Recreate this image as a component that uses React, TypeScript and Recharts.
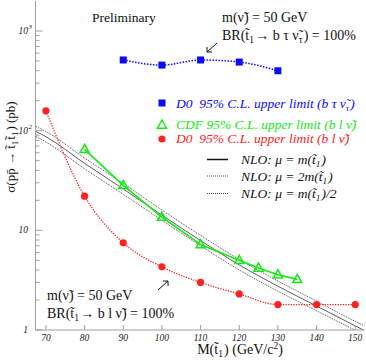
import React from 'react';
import { LineChart, Line, XAxis, YAxis } from 'recharts';

// NLO stop pair cross sections (pb) vs stop mass (GeV/c^2)
const nloMass = [67, 70, 80, 90, 100, 110, 120, 130, 140, 150, 153];
const nloHalfScale = [112, 98, 53, 29.5, 16, 8.9, 5.1, 3.1, 1.95, 1.22, 1.07];
const nloCentral = [100, 87, 47, 26, 14.2, 7.9, 4.5, 2.75, 1.74, 1.1, 0.96];
const nloDoubleScale = [89, 77, 41.5, 23, 12.6, 7.0, 4.0, 2.45, 1.56, 0.99, 0.86];

// D0 limit, b tau nu_tau channel
const d0TauMass = [90, 100, 110, 120, 130];
const d0TauLimit = [512, 455, 512, 488, 399];

// CDF limit, b l nu channel
const cdfMass = [80, 90, 100, 110, 120, 125, 130, 135];
const cdfLimit = [65, 28.3, 13.6, 7.2, 5.0, 4.18, 3.59, 3.22];

// D0 limit, b l nu channel
const d0LepMass = [70, 80, 90, 100, 110, 120, 130, 140, 150];
const d0LepLimit = [158, 22, 7.5, 4.3, 3.0, 2.3, 1.8, 1.8, 1.8];

const massTicks = [70, 80, 90, 100, 110, 120, 130, 140, 150];
const sigmaTicks = [
  1, 2, 3, 4, 5, 6, 7, 8, 9,
  10, 20, 30, 40, 50, 60, 70, 80, 90,
  100, 200, 300, 400, 500, 600, 700, 800, 900,
  1000,
];

const BLUE = '#0a0aff';
const GREEN = '#14ea14';
const RED = '#ff2020';
const FRAME = '#a0a0a0';
const NLO_GRAY = '#4a4a4a';
const SERIF = "'Liberation Serif', 'Times New Roman', serif";

const toPoints = (xs: number[], ys: number[]) => xs.map((m, i) => ({ m, v: ys[i] }));

const SquareDot = (p: any) =>
  p.cx == null ? null : (
    <rect key={`sq${p.index}`} x={p.cx - 3.5} y={p.cy - 3.5} width={7} height={7} fill={BLUE} />
  );

const CircleDot = (p: any) =>
  p.cx == null ? null : <circle key={`ci${p.index}`} cx={p.cx} cy={p.cy} r={3.6} fill={RED} />;

const triPath = (cx: number, cy: number) =>
  `M${cx},${cy - 5} L${cx - 4.5},${cy + 3.2} L${cx + 4.5},${cy + 3.2} Z`;

const TriangleDot = (p: any) =>
  p.cx == null ? null : (
    <path key={`tr${p.index}`} d={triPath(p.cx, p.cy)} fill="none" stroke={GREEN} strokeWidth={1.5} />
  );

const SigmaTick = (props: any) => {
  const { x, y, payload } = props;
  const lg = Math.log10(payload.value);
  const exp = Math.round(lg);
  const major = Math.abs(lg - exp) < 1e-6;
  return (
    <g>
      <line x1={x} x2={x + (major ? 7 : 4)} y1={y} y2={y} stroke={FRAME} />
      {major && (
        <text x={x - 7.5} y={y + 3} textAnchor="end" fontSize={9.5} fontStyle="italic" fontFamily={SERIF} fill="#222">
          {exp === 0 ? '1' : '10'}
        </text>
      )}
      {major && exp >= 2 && (
        <text x={x - 7} y={y - 2} fontSize={7} fontStyle="italic" fontFamily={SERIF} fill="#222">
          {exp}
        </text>
      )}
    </g>
  );
};

const MassTick = (props: any) => {
  const { x, y, payload } = props;
  return (
    <g>
      <line x1={x} x2={x} y1={y} y2={y - 5} stroke={FRAME} />
      <text x={x} y={y + 11} textAnchor="middle" fontSize={9.5} fontStyle="italic" fontFamily={SERIF} fill="#222">
        {payload.value}
      </text>
    </g>
  );
};

const Sub = ({ children }: { children: React.ReactNode }) => (
  <>
    <tspan dy={3} fontSize="0.68em">{children}</tspan>
    <tspan dy={-3}>{'\u200a'}</tspan>
  </>
);

const Overlay = () => (
  <svg
    width={366}
    height={360}
    style={{ position: 'absolute', left: 0, top: 0, pointerEvents: 'none' }}
    fontFamily={SERIF}
  >
    <text x={92} y={21.5} fontSize={13.5} fill="#111">Preliminary</text>

    <text x={222} y={22} fontSize={14} fill="#111">m(ν̃) = 50 GeV</text>
    <text x={222} y={39.5} fontSize={14} fill="#111">
      BR(t̃<Sub>1</Sub>→ b τ ν̃<Sub>τ</Sub>) = 100%
    </text>
    <line x1={217} y1={43} x2={207} y2={52} stroke="#111" />
    <polyline points="207,47 207,52 212,52" fill="none" stroke="#111" />

    <text x={47} y={300} fontSize={14} fill="#111">m(ν̃) = 50 GeV</text>
    <text x={47} y={318} fontSize={14} fill="#111">
      BR(t̃<Sub>1</Sub>→ b l ν̃) = 100%
    </text>
    <line x1={158} y1={290} x2={168} y2={281} stroke="#111" />
    <polyline points="163,281 168,281 168,286" fill="none" stroke="#111" />

    {/* legend */}
    <rect x={158.5} y={99.5} width={7} height={7} fill={BLUE} />
    <text x={176} y={108} fontSize={13.5} fontStyle="italic" fill={BLUE} style={{ whiteSpace: 'pre' }}>
      D0  95% C.L. upper limit (b τ ν̃<Sub>τ</Sub>)
    </text>
    <path d={triPath(162, 125)} fill="none" stroke={GREEN} strokeWidth={1.5} />
    <text x={176} y={128.5} fontSize={13.5} fontStyle="italic" fill={GREEN} style={{ whiteSpace: 'pre' }}>
      CDF 95% C.L. upper limit (b l ν̃)
    </text>
    <circle cx={162} cy={139} r={3.6} fill={RED} />
    <text x={176} y={142.5} fontSize={13.5} fontStyle="italic" fill={RED} style={{ whiteSpace: 'pre' }}>
      D0  95% C.L. upper limit (b l ν̃)
    </text>

    <line x1={207} x2={228} y1={159.5} y2={159.5} stroke="#111" strokeWidth={1.5} />
    <text x={241} y={164} fontSize={13.5} fontStyle="italic" fill="#111">
      NLO: μ = m(t̃<Sub>1</Sub>)
    </text>
    <line x1={207} x2={228} y1={176} y2={176} stroke={NLO_GRAY} strokeDasharray="1 1" />
    <text x={241} y={180.5} fontSize={13.5} fontStyle="italic" fill="#111">
      NLO: μ = 2m(t̃<Sub>1</Sub>)
    </text>
    <line x1={207} x2={228} y1={193.5} y2={193.5} stroke={NLO_GRAY} strokeDasharray="1 1" />
    <text x={241} y={198} fontSize={13.5} fontStyle="italic" fill="#111">
      NLO: μ = m(t̃<Sub>1</Sub>)/2
    </text>

    {/* axis titles */}
    <text x={-147} y={15} transform="rotate(-90)" textAnchor="middle" fontSize={13} fill="#111">
      σ(pp̄ → t̃<Sub>1</Sub>t̃<Sub>1</Sub>) (pb)
    </text>
    <text x={240} y={353.5} textAnchor="middle" fontSize={14} fill="#111">
      M(t̃<Sub>1</Sub>) (GeV/c<tspan dy={-5} fontSize="0.68em">2</tspan><tspan dy={5}>)</tspan>
    </text>
  </svg>
);

export default function App() {
  return (
    <div style={{ position: 'absolute', left: 0, top: 0, width: 366, height: 360, background: '#fff' }}>
      <LineChart width={366} height={360} margin={{ top: 1, right: 1.5, left: 0.5, bottom: 0 }}>
        <XAxis
          dataKey="m"
          type="number"
          domain={[67.3, 152.4]}
          allowDataOverflow
          ticks={massTicks}
          interval={0}
          height={30}
          tickSize={0}
          tickMargin={0}
          tickLine={false}
          axisLine={{ stroke: FRAME }}
          tick={<MassTick />}
        />
        <XAxis
          xAxisId="top"
          orientation="top"
          type="number"
          domain={[67.3, 152.4]}
          height={0}
          tick={false}
          tickLine={false}
          axisLine={{ stroke: FRAME }}
        />
        <YAxis
          type="number"
          scale="log"
          domain={[1, 2000]}
          allowDataOverflow
          ticks={sigmaTicks}
          interval={0}
          width={35}
          tickSize={0}
          tickMargin={0}
          tickLine={false}
          axisLine={{ stroke: FRAME }}
          tick={<SigmaTick />}
        />
        <YAxis
          yAxisId="right"
          orientation="right"
          type="number"
          domain={[0, 1]}
          width={0}
          tick={false}
          tickLine={false}
          axisLine={{ stroke: FRAME }}
        />

        <Line data={toPoints(nloMass, nloHalfScale)} dataKey="v" type="monotone" stroke={NLO_GRAY} strokeWidth={1} strokeDasharray="1 1" dot={false} isAnimationActive={false} />
        <Line data={toPoints(nloMass, nloCentral)} dataKey="v" type="monotone" stroke="#333" strokeWidth={0.8} dot={false} isAnimationActive={false} />
        <Line data={toPoints(nloMass, nloDoubleScale)} dataKey="v" type="monotone" stroke={NLO_GRAY} strokeWidth={1} strokeDasharray="1 1" dot={false} isAnimationActive={false} />

        <Line data={toPoints(d0TauMass, d0TauLimit)} dataKey="v" type="monotone" stroke={BLUE} strokeWidth={1.5} strokeDasharray="1.5 1.5" dot={SquareDot} isAnimationActive={false} />
        <Line data={toPoints(cdfMass, cdfLimit)} dataKey="v" type="linear" stroke={GREEN} strokeWidth={1.6} dot={TriangleDot} isAnimationActive={false} />
        <Line data={toPoints(d0LepMass, d0LepLimit)} dataKey="v" type="monotone" stroke={RED} strokeWidth={1.3} strokeDasharray="1.3 1.3" dot={CircleDot} isAnimationActive={false} />
      </LineChart>
      <Overlay />
    </div>
  );
}
